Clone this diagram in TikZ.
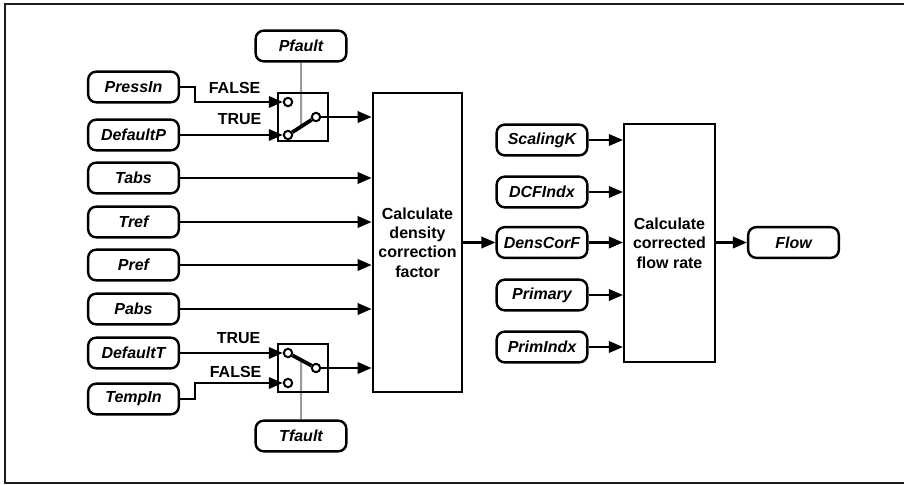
\documentclass[tikz,border=0pt]{standalone}
\usepackage{fontspec}
\setmainfont{Liberation Sans}
\usepackage{tikz}
\usepackage{xcolor}
\usetikzlibrary{arrows.meta, positioning, calc, backgrounds}
\definecolor{cFrame}{RGB}{30,30,30}
\definecolor{cCtrl}{RGB}{155,155,155}
\newcommand{\diagsize}{\fontsize{12}{14.5}\selectfont}
\tikzset{
	tag/.style     ={rectangle, rounded corners=6pt, draw=black, line width=1.8pt, minimum width=68pt, minimum height=23pt, inner sep=1pt, text centered, font=\diagsize\bfseries\itshape},
	calcblk/.style ={rectangle, draw=black, line width=1.8pt, minimum width=67pt, align=center, font=\diagsize\bfseries},
	swbox/.style   ={rectangle, draw=black, line width=1.8pt, minimum width=37.5pt, minimum height=36pt},
	contact/.style ={circle, draw=black, line width=1.5pt, fill=white, minimum size=6.3pt, inner sep=0pt},
	wire/.style    ={-{Triangle[length=10.5pt, width=8.5pt]}, line width=1.8pt},
	blade/.style   ={line width=2.8pt},
	ctrl/.style    ={cCtrl, line width=1.4pt},
	swlabel/.style ={font=\diagsize\bfseries, inner sep=1pt, anchor=east},
}

\begin{document}
\begin{tikzpicture}[x=0.75pt, y=-0.75pt]
	\useasboundingbox (0,0) rectangle (904,485);
	\draw[cFrame, line width=1.3pt] (910,4) -- (5,4) -- (5,483) -- (910,483);

	% input signals
	\node[tag] (pressin)  at (133.5,87)  {PressIn};
	\node[tag] (defaultp) at (133.5,135) {DefaultP};
	\node[tag] (tabs)     at (133.5,178) {Tabs};
	\node[tag] (tref)     at (133.5,222) {Tref};
	\node[tag] (pref)     at (133.5,265) {Pref};
	\node[tag] (pabs)     at (133.5,309) {Pabs};
	\node[tag] (defaultt) at (133.5,353) {DefaultT};
	\node[tag] (tempin)   at (133.5,399) {TempIn};
	\node[tag] (pfault)   at (301,46)    {Pfault};
	\node[tag] (tfault)   at (301,436)   {Tfault};

	% selector switches
	\node[swbox] (swp) at (303,117) {};
	\node[contact] (p0)   at (288,102) {};
	\node[contact] (p1)   at (288,135) {};
	\node[contact] (pout) at (316,117) {};
	\node[swbox] (swt) at (303,368) {};
	\node[contact] (t0)   at (288,353) {};
	\node[contact] (t1)   at (288,383) {};
	\node[contact] (tout) at (316,368) {};
	\begin{scope}[on background layer]
		\draw[ctrl] (pfault.south) -- ($(p1)!0.47!(pout)$);
		\draw[ctrl] (tfault.north) -- ($(t0)!0.47!(tout)$);
		\draw[blade] (p1) -- (pout);
		\draw[blade] (t0) -- (tout);
	\end{scope}
	\node[swlabel] (pfalse) at (262,88)  {FALSE};
	\node[swlabel] (ptrue)  at (263,119) {TRUE};
	\node[swlabel] (ttrue)  at (262,338) {TRUE};
	\node[swlabel] (tfalse) at (263,372) {FALSE};

	% processing blocks
	\node[calcblk, minimum height=224pt] (calcdens) at (417.5,242.5) {Calculate\\density\\correction\\factor};
	\node[calcblk, minimum width=68pt, minimum height=178.5pt] (calcflow) at (669.5,243) {Calculate\\corrected\\flow rate};

	\node[tag] (scalingk) at (542,140)   {ScalingK};
	\node[tag] (dcfindx)  at (542,192)   {DCFIndx};
	\node[tag] (denscorf) at (542,242.5) {DensCorF};
	\node[tag] (primary)  at (542,295)   {Primary};
	\node[tag] (primindx) at (542,347)   {PrimIndx};
	\node[tag] (flow)     at (793.5,242.5) {Flow};

	% connections
	\draw[wire] (pressin.east) -- ++(15,0) |- (p0.west);
	\draw[wire] (defaultp.east) -- (p1.west);
	\draw[wire] (defaultt.east) -- (t0.west);
	\draw[wire] (tempin.east) -- ++(15,0) |- (t1.west);
	\draw[wire] (pout.east) -- (pout.east -| calcdens.west);
	\draw[wire] (tout.east) -- (tout.east -| calcdens.west);
	\foreach \src in {tabs, tref, pref, pabs}
		\draw[wire] (\src.east) -- (\src.east -| calcdens.west);
	\draw[wire] (calcdens.east |- denscorf.west) -- (denscorf.west);
	\foreach \src in {scalingk, dcfindx, denscorf, primary, primindx}
		\draw[wire] (\src.east) -- (\src.east -| calcflow.west);
	\draw[wire] (calcflow.east |- flow.west) -- (flow.west);
\end{tikzpicture}
\end{document}
